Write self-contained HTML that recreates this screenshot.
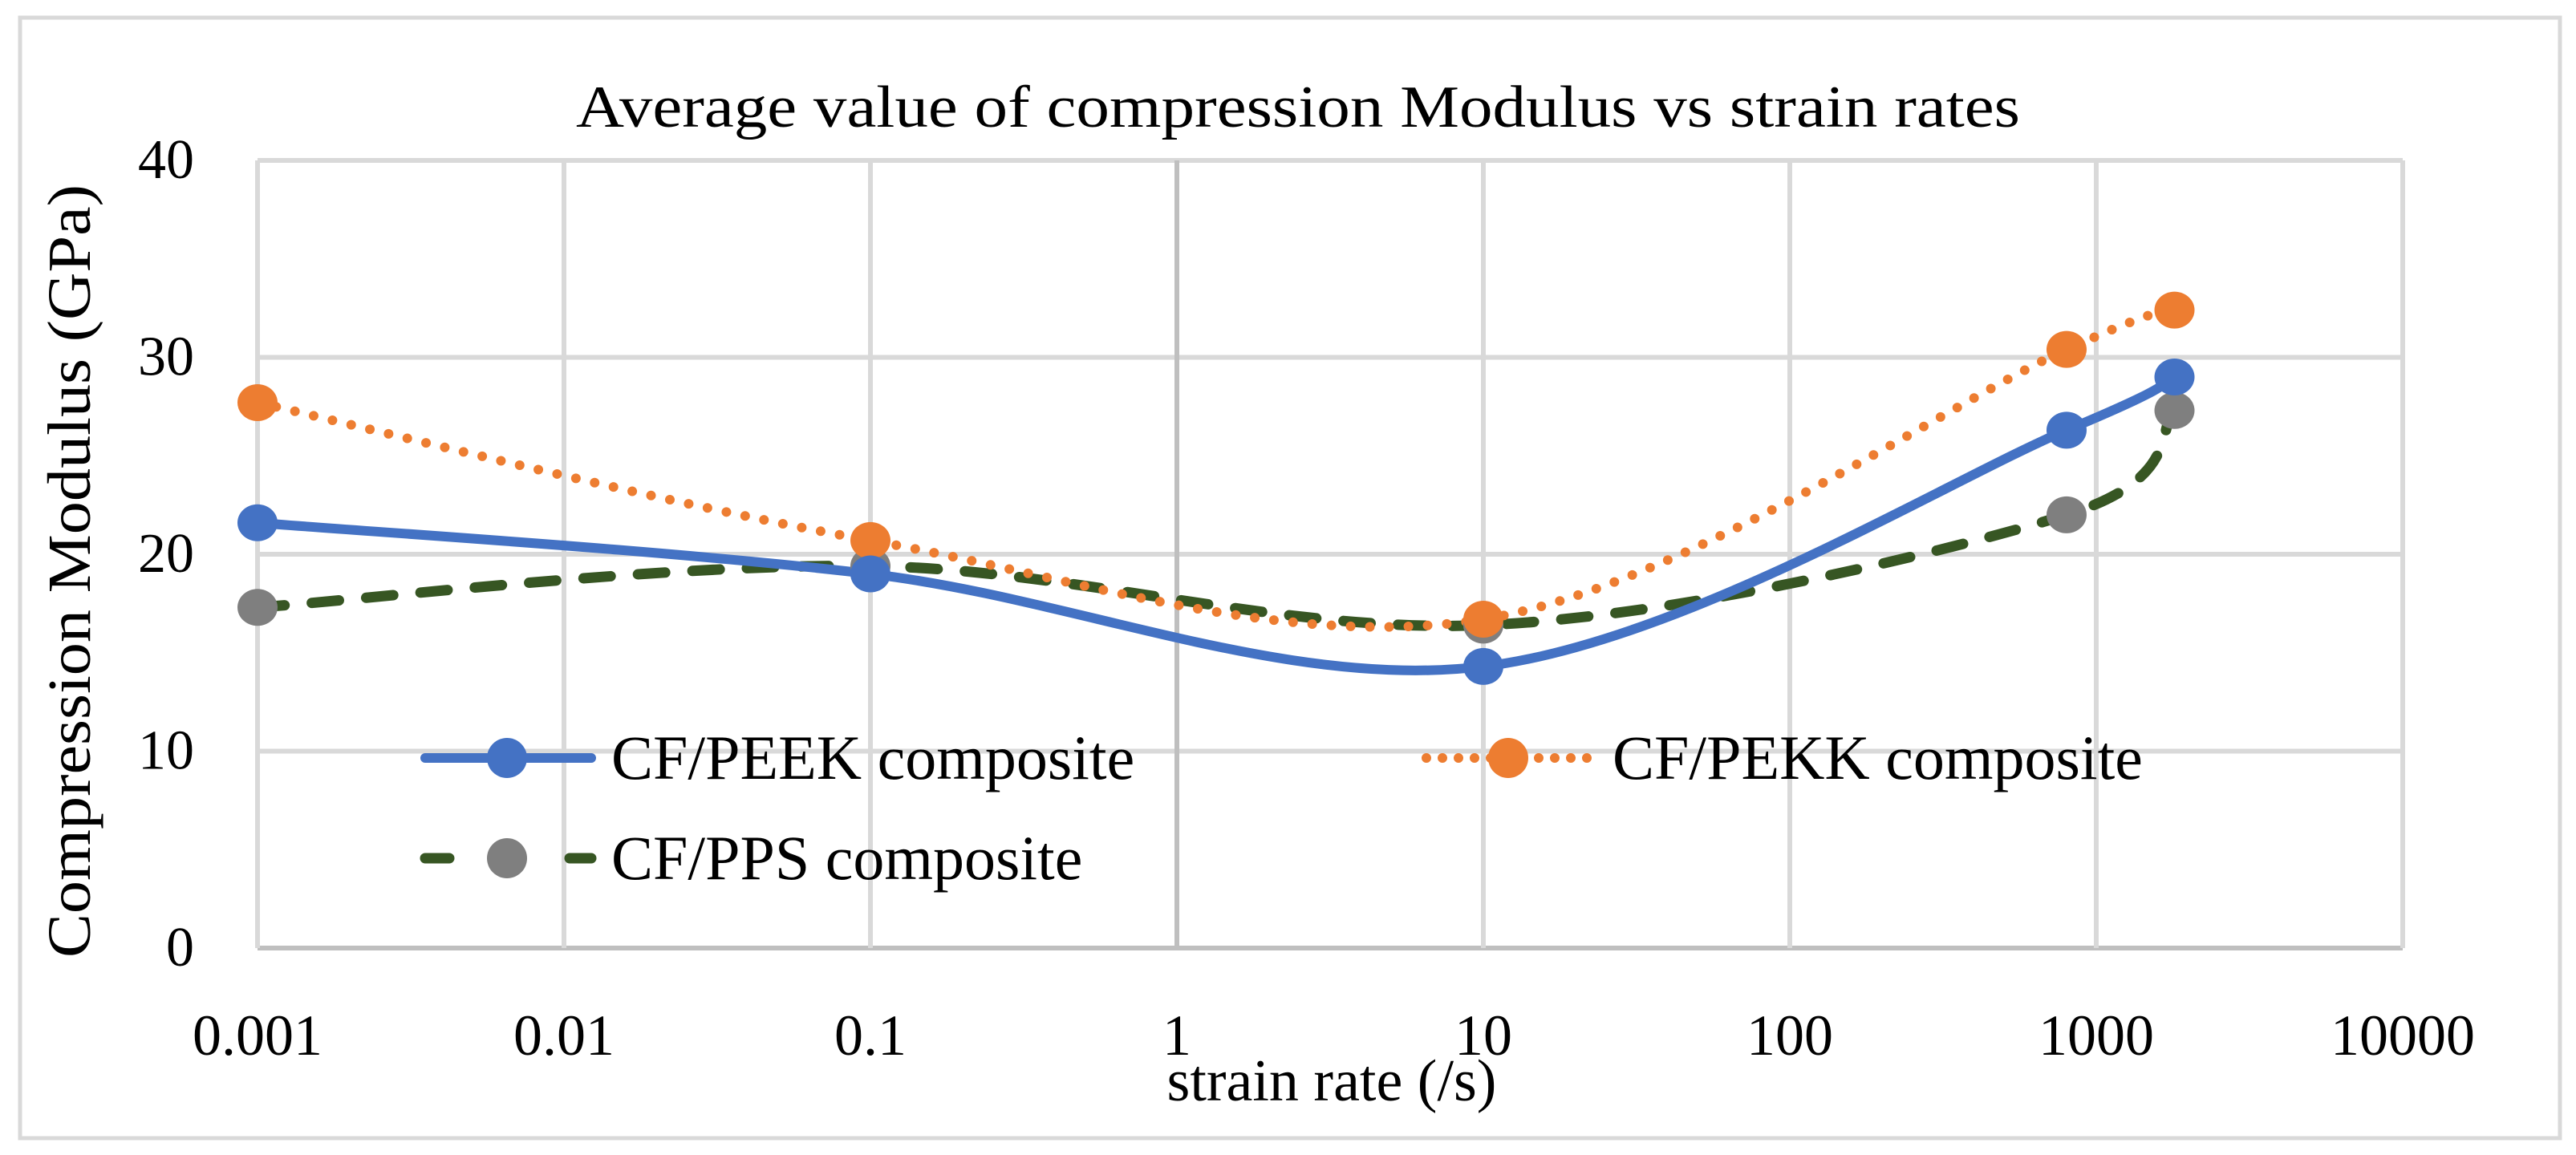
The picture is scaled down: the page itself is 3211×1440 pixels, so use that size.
<!DOCTYPE html>
<html><head><meta charset="utf-8"><style>
html,body{margin:0;padding:0;background:#fff;}
svg{display:block;font-family:"Liberation Serif",serif;}
</style></head><body>
<svg id="chart" width="3211" height="1440" viewBox="0 0 3211 1440" xmlns="http://www.w3.org/2000/svg">
<rect x="25" y="22" width="3166" height="1397" fill="#fff" stroke="#d9d9d9" stroke-width="5"/>
<text x="1618" y="158" font-size="74" text-anchor="middle" textLength="1800" lengthAdjust="spacingAndGlyphs">Average value of compression Modulus vs strain rates</text>
<g id="grid"></g>
<g id="ticks"></g>
<text transform="translate(112,712) rotate(-90)" font-size="76" text-anchor="middle" textLength="964" lengthAdjust="spacingAndGlyphs">Compression Modulus (GPa)</text>
<text x="1660" y="1372" font-size="74" text-anchor="middle">strain rate (/s)</text>
<g id="series"></g>
<g id="legend"></g>
</svg>
<script>
const xValues = [0.001, 0.1, 10, 800, 1800];
const peekValues = [21.6, 19.0, 14.3, 26.3, 29.0];
const pekkValues = [27.7, 20.7, 16.7, 30.4, 32.4];
const ppsValues = [17.3, 19.4, 16.4, 22.0, 27.3];
const xTickValues = [0.001, 0.01, 0.1, 1, 10, 100, 1000, 10000];
const xTickLabels = ["0.001", "0.01", "0.1", "1", "10", "100", "1000", "10000"];
const yTickValues = [0, 10, 20, 30, 40];
const seriesNames = ["CF/PEEK composite", "CF/PEKK composite", "CF/PPS composite"];

const NS = "http://www.w3.org/2000/svg";
const L = 321, R = 2995, T = 200, B = 1182;
function xs(v){ return L + (Math.log10(v) + 3) / 7 * (R - L); }
function ys(v){ return B - v / 40 * (B - T); }
function mk(tag, attrs, parent){ const e = document.createElementNS(NS, tag); for (const k in attrs) e.setAttribute(k, attrs[k]); parent.appendChild(e); return e; }

const grid = document.getElementById('grid');
const ticks = document.getElementById('ticks');
yTickValues.forEach(v => {
  const ln = mk('line', {x1: L, x2: R, y1: ys(v), y2: ys(v), stroke: v === 0 ? '#bfbfbf' : '#d9d9d9', 'stroke-width': 6}, grid);
  
  
  const t = mk('text', {x: 242, y: ys(v) + 22, 'font-size': 70, 'text-anchor': 'end'}, ticks);
  
  
  t.textContent = String(v);
});
xTickValues.forEach((v, i) => {
  const ln = mk('line', {x1: xs(v), x2: xs(v), y1: T, y2: B, stroke: v === 1 ? '#bfbfbf' : '#d9d9d9', 'stroke-width': 6}, grid);
  
  
  const t = mk('text', {x: xs(v), y: 1315, 'font-size': 72, 'text-anchor': 'middle'}, ticks);
  
  
  t.textContent = xTickLabels[i];
});

function smoothPath(pts){
  let d = 'M' + pts[0][0] + ',' + pts[0][1];
  for (let i = 0; i < pts.length - 1; i++) {
    const p0 = pts[Math.max(i - 1, 0)], p1 = pts[i], p2 = pts[i + 1], p3 = pts[Math.min(i + 2, pts.length - 1)];
    const c1x = p1[0] + (p2[0] - p0[0]) / 6, c1y = p1[1] + (p2[1] - p0[1]) / 6;
    const c2x = p2[0] - (p3[0] - p1[0]) / 6, c2y = p2[1] - (p3[1] - p1[1]) / 6;
    d += ' C' + c1x + ',' + c1y + ' ' + c2x + ',' + c2y + ' ' + p2[0] + ',' + p2[1];
  }
  return d;
}
const seriesG = document.getElementById('series');
const styles = [
  {line: '#4472c4', marker: '#4472c4', w: 12, dash: null, cap: 'round'},
  {line: '#ed7d31', marker: '#ed7d31', w: 12, dash: '0 24', cap: 'round'},
  {line: '#375623', marker: '#7f7f7f', w: 13, dash: '34 34', cap: 'round'}
];
const data = [peekValues, pekkValues, ppsValues];
const order = [2, 1, 0];
order.forEach(si => {
  const vals = data[si], st = styles[si];
  const pts = xValues.map((x, i) => [xs(x), ys(vals[i])]);
  const p = mk('path', {d: smoothPath(pts), fill: 'none', stroke: st.line, 'stroke-width': st.w, 'stroke-linecap': st.cap}, seriesG);
  if (st.dash) p.setAttribute('stroke-dasharray', st.dash);
  
  
});
order.forEach(si => {
  const vals = data[si], st = styles[si];
  xValues.forEach((x, i) => {
    const c = mk('ellipse', {cx: xs(x), cy: ys(vals[i]), rx: 25, ry: 23, fill: st.marker}, seriesG);
    
    
  });
});

const legend = document.getElementById('legend');
const legPos = [[522, 945], [1770, 945], [522, 1070]];
seriesNames.forEach((name, si) => {
  const st = styles[si], [lx, ly] = legPos[si];
  const g = mk('g', {}, legend);
  
  
  let dash = st.dash;
  if (si === 1) dash = '0 20';
  if (si === 2) dash = '30 60';
  const ln = mk('line', {x1: lx + 8, x2: lx + 215, y1: ly, y2: ly, stroke: st.line, 'stroke-width': st.w, 'stroke-linecap': 'round'}, g);
  if (dash) ln.setAttribute('stroke-dasharray', dash);
  
  
  const c = mk('ellipse', {cx: lx + 110, cy: ly, rx: 25, ry: 25, fill: st.marker}, g);
  
  
  const t = mk('text', {x: lx + 240, y: ly + 26, 'font-size': 78}, g);
  
  
  t.textContent = name;
});
</script>
</body></html>
